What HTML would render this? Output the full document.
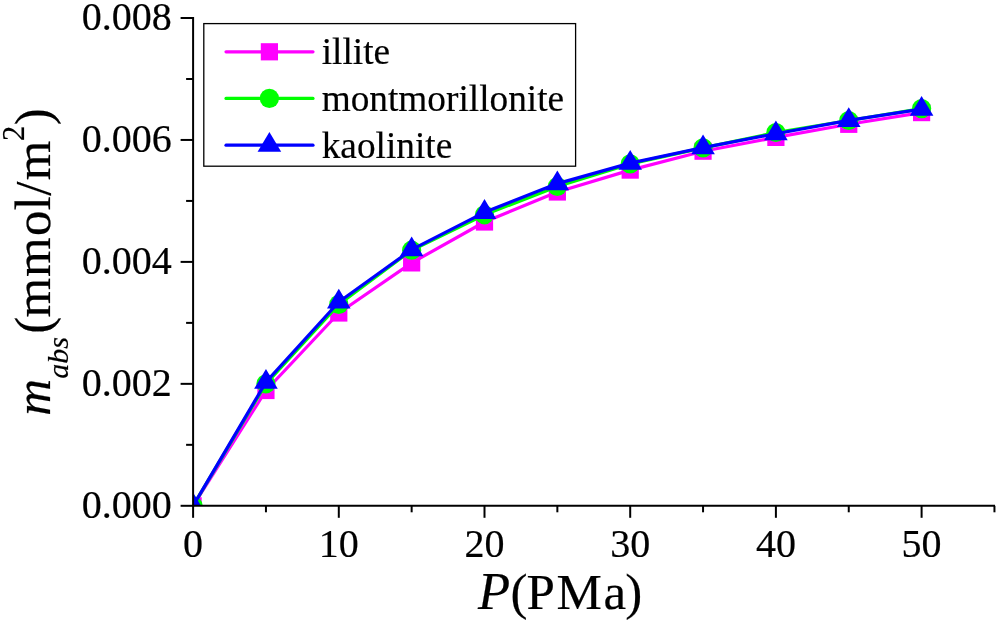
<!DOCTYPE html><html><head><meta charset="utf-8"><style>html,body{margin:0;padding:0;background:#fff;width:1000px;height:623px;overflow:hidden}svg{display:block;will-change:transform}text{font-family:"Liberation Serif",serif;fill:#000;stroke:#000;stroke-width:0.2px}</style></head><body>
<svg width="1000" height="623" viewBox="0 0 1000 623">
<rect width="1000" height="623" fill="#fff"/>
<defs><clipPath id="pc"><rect x="193.1" y="0" width="810" height="505.8"/></clipPath></defs>
<g clip-path="url(#pc)">
<polyline points="193.10,505.80 265.95,390.50 338.80,313.00 411.65,262.90 484.50,222.00 557.35,192.00 630.20,170.10 703.05,151.20 775.90,137.40 848.75,124.30 921.60,112.60" fill="none" stroke="#ff00ff" stroke-width="3.2" stroke-linejoin="round"/>
<rect x="184.50" y="497.20" width="17.2" height="17.2" fill="#ff00ff"/>
<rect x="257.35" y="381.90" width="17.2" height="17.2" fill="#ff00ff"/>
<rect x="330.20" y="304.40" width="17.2" height="17.2" fill="#ff00ff"/>
<rect x="403.05" y="254.30" width="17.2" height="17.2" fill="#ff00ff"/>
<rect x="475.90" y="213.40" width="17.2" height="17.2" fill="#ff00ff"/>
<rect x="548.75" y="183.40" width="17.2" height="17.2" fill="#ff00ff"/>
<rect x="621.60" y="161.50" width="17.2" height="17.2" fill="#ff00ff"/>
<rect x="694.45" y="142.60" width="17.2" height="17.2" fill="#ff00ff"/>
<rect x="767.30" y="128.80" width="17.2" height="17.2" fill="#ff00ff"/>
<rect x="840.15" y="115.70" width="17.2" height="17.2" fill="#ff00ff"/>
<rect x="913.00" y="104.00" width="17.2" height="17.2" fill="#ff00ff"/>
<polyline points="193.10,505.80 265.95,383.80 338.80,304.40 411.65,250.20 484.50,214.80 557.35,186.50 630.20,163.90 703.05,147.90 775.90,132.50 848.75,120.50 921.60,108.60" fill="none" stroke="#00ff00" stroke-width="3.2" stroke-linejoin="round"/>
<circle cx="193.10" cy="505.80" r="9.6" fill="#00ff00"/>
<circle cx="265.95" cy="383.80" r="9.6" fill="#00ff00"/>
<circle cx="338.80" cy="304.40" r="9.6" fill="#00ff00"/>
<circle cx="411.65" cy="250.20" r="9.6" fill="#00ff00"/>
<circle cx="484.50" cy="214.80" r="9.6" fill="#00ff00"/>
<circle cx="557.35" cy="186.50" r="9.6" fill="#00ff00"/>
<circle cx="630.20" cy="163.90" r="9.6" fill="#00ff00"/>
<circle cx="703.05" cy="147.90" r="9.6" fill="#00ff00"/>
<circle cx="775.90" cy="132.50" r="9.6" fill="#00ff00"/>
<circle cx="848.75" cy="120.50" r="9.6" fill="#00ff00"/>
<circle cx="921.60" cy="108.60" r="9.6" fill="#00ff00"/>
<polyline points="193.10,505.80 265.95,382.10 338.80,302.00 411.65,249.70 484.50,212.30 557.35,183.60 630.20,163.10 703.05,147.60 775.90,133.70 848.75,120.40 921.60,109.10" fill="none" stroke="#0000ff" stroke-width="3.2" stroke-linejoin="round"/>
<polygon points="193.10,492.60 181.30,512.40 204.90,512.40" fill="#0000ff"/>
<polygon points="265.95,368.90 254.15,388.70 277.75,388.70" fill="#0000ff"/>
<polygon points="338.80,288.80 327.00,308.60 350.60,308.60" fill="#0000ff"/>
<polygon points="411.65,236.50 399.85,256.30 423.45,256.30" fill="#0000ff"/>
<polygon points="484.50,199.10 472.70,218.90 496.30,218.90" fill="#0000ff"/>
<polygon points="557.35,170.40 545.55,190.20 569.15,190.20" fill="#0000ff"/>
<polygon points="630.20,149.90 618.40,169.70 642.00,169.70" fill="#0000ff"/>
<polygon points="703.05,134.40 691.25,154.20 714.85,154.20" fill="#0000ff"/>
<polygon points="775.90,120.50 764.10,140.30 787.70,140.30" fill="#0000ff"/>
<polygon points="848.75,107.20 836.95,127.00 860.55,127.00" fill="#0000ff"/>
<polygon points="921.60,95.90 909.80,115.70 933.40,115.70" fill="#0000ff"/>
</g>
<line x1="193.1" y1="17" x2="193.1" y2="506.8" stroke="#000" stroke-width="2"/>
<line x1="192.1" y1="505.8" x2="995" y2="505.8" stroke="#000" stroke-width="2"/>
<line x1="180.60" y1="505.80" x2="193.1" y2="505.80" stroke="#000" stroke-width="2"/>
<line x1="186.10" y1="444.82" x2="193.1" y2="444.82" stroke="#000" stroke-width="2"/>
<line x1="180.60" y1="383.85" x2="193.1" y2="383.85" stroke="#000" stroke-width="2"/>
<line x1="186.10" y1="322.88" x2="193.1" y2="322.88" stroke="#000" stroke-width="2"/>
<line x1="180.60" y1="261.90" x2="193.1" y2="261.90" stroke="#000" stroke-width="2"/>
<line x1="186.10" y1="200.93" x2="193.1" y2="200.93" stroke="#000" stroke-width="2"/>
<line x1="180.60" y1="139.95" x2="193.1" y2="139.95" stroke="#000" stroke-width="2"/>
<line x1="186.10" y1="78.98" x2="193.1" y2="78.98" stroke="#000" stroke-width="2"/>
<line x1="180.60" y1="18.00" x2="193.1" y2="18.00" stroke="#000" stroke-width="2"/>
<line x1="193.10" y1="505.8" x2="193.10" y2="517.80" stroke="#000" stroke-width="2"/>
<line x1="265.95" y1="505.8" x2="265.95" y2="512.30" stroke="#000" stroke-width="2"/>
<line x1="338.80" y1="505.8" x2="338.80" y2="517.80" stroke="#000" stroke-width="2"/>
<line x1="411.65" y1="505.8" x2="411.65" y2="512.30" stroke="#000" stroke-width="2"/>
<line x1="484.50" y1="505.8" x2="484.50" y2="517.80" stroke="#000" stroke-width="2"/>
<line x1="557.35" y1="505.8" x2="557.35" y2="512.30" stroke="#000" stroke-width="2"/>
<line x1="630.20" y1="505.8" x2="630.20" y2="517.80" stroke="#000" stroke-width="2"/>
<line x1="703.05" y1="505.8" x2="703.05" y2="512.30" stroke="#000" stroke-width="2"/>
<line x1="775.90" y1="505.8" x2="775.90" y2="517.80" stroke="#000" stroke-width="2"/>
<line x1="848.75" y1="505.8" x2="848.75" y2="512.30" stroke="#000" stroke-width="2"/>
<line x1="921.60" y1="505.8" x2="921.60" y2="517.80" stroke="#000" stroke-width="2"/>
<line x1="994.45" y1="505.8" x2="994.45" y2="512.30" stroke="#000" stroke-width="2"/>
<text x="171.8" y="518.10" font-size="40" text-anchor="end">0.000</text>
<text x="171.8" y="396.15" font-size="40" text-anchor="end">0.002</text>
<text x="171.8" y="274.20" font-size="40" text-anchor="end">0.004</text>
<text x="171.8" y="152.25" font-size="40" text-anchor="end">0.006</text>
<text x="171.8" y="30.30" font-size="40" text-anchor="end">0.008</text>
<text x="193.10" y="556.9" font-size="40" text-anchor="middle">0</text>
<text x="338.80" y="556.9" font-size="40" text-anchor="middle">10</text>
<text x="484.50" y="556.9" font-size="40" text-anchor="middle">20</text>
<text x="630.20" y="556.9" font-size="40" text-anchor="middle">30</text>
<text x="775.90" y="556.9" font-size="40" text-anchor="middle">40</text>
<text x="921.60" y="556.9" font-size="40" text-anchor="middle">50</text>
<text x="478.0" y="609" font-size="52.5" font-style="italic">P</text>
<text x="510.46" y="609" font-size="51">(</text>
<text x="526.61" y="609" font-size="51">P</text>
<text x="556.59" y="609" font-size="51">M</text>
<text x="603.39" y="609" font-size="51">a</text>
<text x="625.31" y="609" font-size="51">)</text>
<g transform="translate(49.5,415) rotate(-90)">
<text x="-0.7" y="0" font-size="51" font-style="italic">m</text>
<text x="36.2" y="18.4" font-size="30" font-style="italic">a</text>
<text x="51.2" y="18.4" font-size="30" font-style="italic">b</text>
<text x="66.2" y="18.4" font-size="30" font-style="italic">s</text>
<text x="81.16" y="0" font-size="51">(</text>
<text x="97.58" y="0" font-size="51">m</text>
<text x="138.03" y="0" font-size="51">m</text>
<text x="179.0" y="0" font-size="51">o</text>
<text x="204.42" y="0" font-size="51">l</text>
<text x="219.27" y="0" font-size="51">/</text>
<text x="234.83" y="0" font-size="51">m</text>
<text x="274.0" y="-25.5" font-size="30.5">2</text>
<text x="289.81" y="0" font-size="51">)</text>
</g>
<rect x="203.8" y="23.6" width="371.8" height="142.6" fill="#fff" stroke="#000" stroke-width="1.3"/>
<line x1="226" y1="51.8" x2="313" y2="51.8" stroke="#ff00ff" stroke-width="3.2" stroke-linecap="round"/>
<rect x="260.80" y="43.20" width="17.2" height="17.2" fill="#ff00ff"/>
<text x="321.7" y="64.40" font-size="37.3">illite</text>
<line x1="226" y1="98.4" x2="313" y2="98.4" stroke="#00ff00" stroke-width="3.2" stroke-linecap="round"/>
<circle cx="269.40" cy="98.40" r="9.6" fill="#00ff00"/>
<text x="321.7" y="111.00" font-size="37.3">montmorillonite</text>
<line x1="226" y1="145.2" x2="313" y2="145.2" stroke="#0000ff" stroke-width="3.2" stroke-linecap="round"/>
<polygon points="269.40,132.00 257.60,151.80 281.20,151.80" fill="#0000ff"/>
<text x="321.7" y="157.80" font-size="37.3">kaolinite</text>
</svg></body></html>
